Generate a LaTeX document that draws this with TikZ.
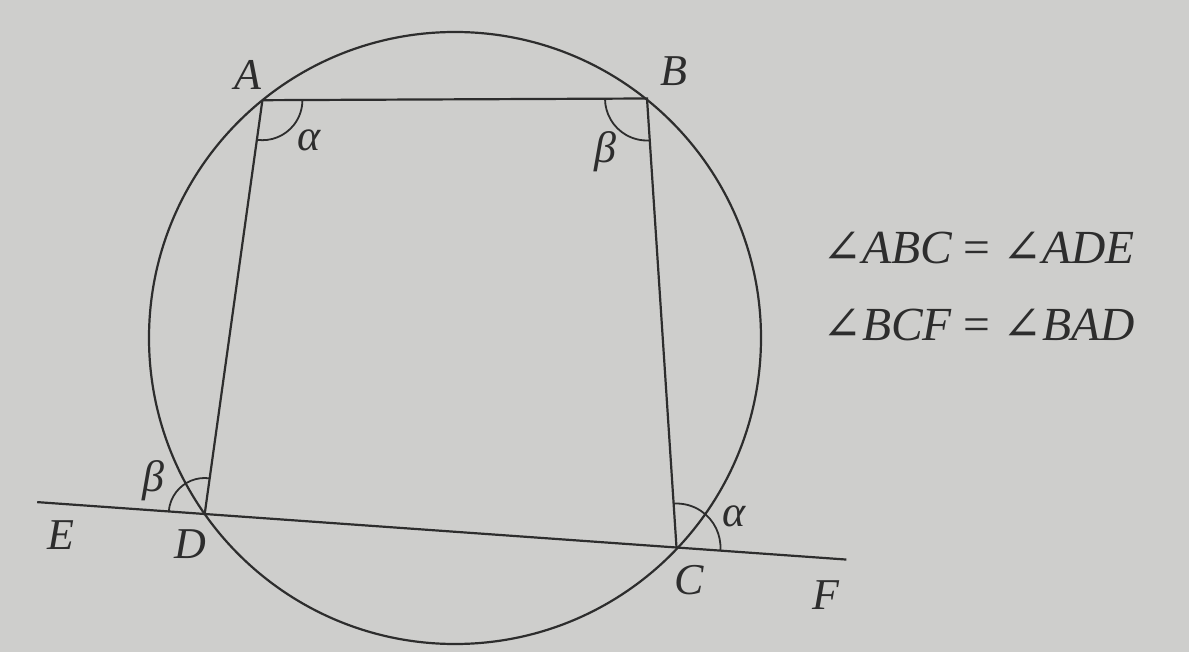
\documentclass[tikz,border=0pt]{standalone}
\usepackage{fontspec}
\setmainfont{Liberation Serif}
\newfontfamily\angfont{DejaVu Serif}
\newcommand{\myang}{{\angfont\upshape ∠}}
\usetikzlibrary{angles,calc}
\definecolor{bg}{RGB}{206,206,204}
\definecolor{ink}{RGB}{45,45,45}
\begin{document}
\begin{tikzpicture}[x=1pt,y=-1pt,
  geo/.style={draw=ink,line width=2.2pt},
  arcm/.style={draw=ink,line width=1.8pt},
  lbl/.style={text=ink,font=\fontsize{44}{44}\selectfont\itshape,inner sep=0pt},
  eqn/.style={text=ink,font=\fontsize{47.5}{47.5}\selectfont\itshape,inner sep=0pt,anchor=west}]
\fill[bg] (0,0) rectangle (1189,652);
\useasboundingbox (0,0) rectangle (1189,652);
\coordinate (O) at (455,338);
\coordinate (A) at (262.4,100.2);
\coordinate (B) at (647,98.5);
\coordinate (C) at (676.5,547.5);
\coordinate (D) at (204.7,514.0);
\coordinate (E) at ($(D)!-0.355!(C)$);
\coordinate (F) at ($(D)!1.36!(C)$);
\draw[geo] (O) circle[radius=306pt];
\draw[geo] (A) -- (B) -- (C);
\draw[geo] (A) -- (D);
\draw[geo] (E) -- (F);
\pic[arcm, angle radius=40pt] {angle=D--A--B};
\pic[arcm, angle radius=42pt] {angle=A--B--C};
\pic[arcm, angle radius=36pt] {angle=A--D--E};
\pic[arcm, angle radius=44pt] {angle=F--C--B};
\node[lbl] (lA) at (248,75) {A};
\node[lbl] (lB) at (674,71) {B};
\node[lbl] (lC) at (689,580) {C};
\node[lbl] (lD) at (190,544) {D};
\node[lbl] (lE) at (61,535) {E};
\node[lbl] (lF) at (826,595) {F};
\node[lbl] (a1) at (309,140) {α};
\node[lbl] (b1) at (605,152) {β};
\node[lbl] (b2) at (153,481) {β};
\node[lbl] (a2) at (734,516) {α};
\node[eqn] (eq1) at (822,248) {\myang ABC {\upshape=} \myang ADE};
\node[eqn] (eq2) at (822,325) {\myang BCF {\upshape=} \myang BAD};
\end{tikzpicture}
\end{document}
